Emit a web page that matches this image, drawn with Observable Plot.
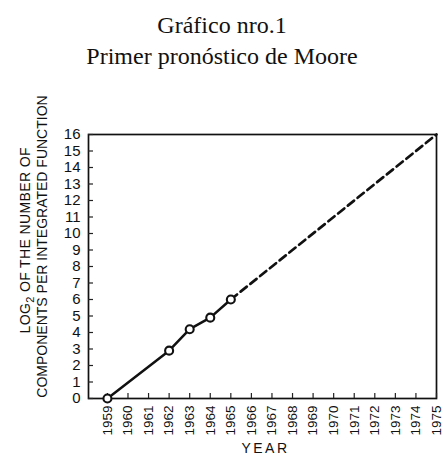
<!DOCTYPE html>
<html>
<head>
<meta charset="utf-8">
<script src="https://cdn.jsdelivr.net/npm/d3@7"></script>
<script src="https://cdn.jsdelivr.net/npm/@observablehq/plot@0.6"></script>
<style>
  body { margin: 0; background: #fff; }
  #title { width: 444px; height: 73px; box-sizing: border-box; padding-top: 10px;
    font-family: "Liberation Serif", serif; font-size: 24px; line-height: 31px;
    text-align: center; color: #111; }
</style>
</head>
<body>
<div id="title"><div>Gráfico nro.1</div><div>Primer pronóstico de Moore</div></div>
<div id="chart"></div>
<script>
const titleLines = ["Gráfico nro.1", "Primer pronóstico de Moore"];
const years = [1959, 1962, 1963, 1964, 1965];
const log2Components = [0, 2.9, 4.2, 4.9, 6.0];
const projectionYears = [1965, 1975];
const projectionValues = [6.0, 16];
const xTicks = d3.range(1959, 1976);
const yTicks = d3.range(0, 17);
const yLabelLines = ["LOG2 OF THE NUMBER OF", "COMPONENTS PER INTEGRATED FUNCTION"];
const xLabel = "YEAR";

const observed = years.map((y, i) => ({year: y, value: log2Components[i]}));
const projected = projectionYears.map((y, i) => ({year: y, value: projectionValues[i]}));

const font = "'Liberation Sans', Arial, sans-serif";

const chart = Plot.plot({
  width: 444,
  height: 385,
  marginLeft: 88,
  marginRight: 8,
  marginTop: 61,
  marginBottom: 60,
  style: {fontFamily: font, color: "#111", background: "#fff", overflow: "visible"},
  x: {domain: [1958.08, 1975]},
  y: {domain: [0, 16]},
  marks: [
    Plot.frame({stroke: "#111", strokeWidth: 1.7}),
    Plot.axisX({ticks: xTicks, tickFormat: d => String(d), tickRotate: -90, tickSize: -5,
      tickPadding: 12, fontSize: 13.5, label: null, stroke: "#222", strokeWidth: 1.2}),
    Plot.axisY({ticks: yTicks, tickFormat: d => String(d), tickSize: -5, tickPadding: 13,
      fontSize: 15, label: null, stroke: "#222", strokeWidth: 1.2}),
    Plot.line(projected, {x: "year", y: "value", stroke: "#111", strokeWidth: 2.7,
      strokeDasharray: "8,4.5"}),
    Plot.line(observed, {x: "year", y: "value", stroke: "#111", strokeWidth: 2.5}),
    Plot.dot(observed, {x: "year", y: "value", r: 4, stroke: "#111", strokeWidth: 2.1, fill: "#fff"}),
    Plot.text([yLabelLines[0]], {frameAnchor: "left", text: d => d, rotate: -90, dx: -63, dy: -26,
      textAnchor: "middle", fontSize: 14, fill: "#111"}),
    Plot.text([yLabelLines[1]], {frameAnchor: "left", text: d => d, rotate: -90, dx: -46, dy: -20,
      textAnchor: "middle", fontSize: 14, fill: "#111"}),
    Plot.text([xLabel], {frameAnchor: "bottom", text: d => d, dx: 3, dy: 54, fontSize: 14, fill: "#111"})
  ]
});
document.getElementById("chart").appendChild(chart);
const svg = d3.select(chart);
svg.selectAll("text").filter(function() { return this.textContent === xLabel; })
  .style("letter-spacing", "2.5px");
svg.selectAll("text").filter(function() { return this.textContent === yLabelLines[0]; })
  .each(function() {
    const t = d3.select(this);
    t.text(null).attr("textLength", 186).attr("lengthAdjust", "spacing");
    t.append("tspan").text("LOG");
    t.append("tspan").attr("dy", 4).attr("font-size", 11).text("2");
    t.append("tspan").attr("dy", -4).text(" OF THE NUMBER OF");
  });
</script>
</body>
</html>
